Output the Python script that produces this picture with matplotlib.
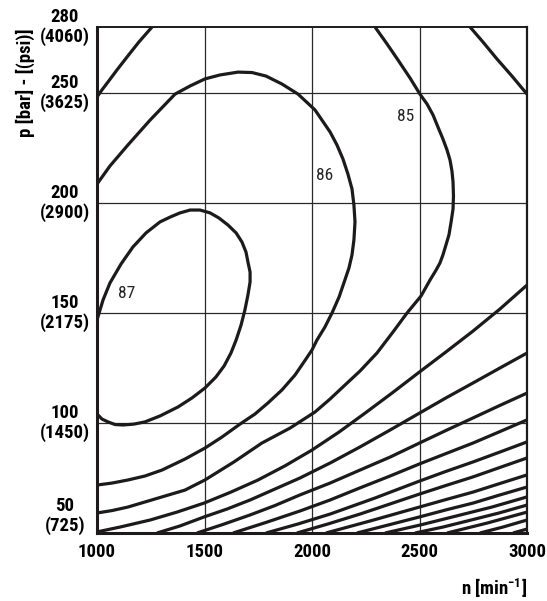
import matplotlib
matplotlib.use('Agg')
import matplotlib.pyplot as plt
import matplotlib.transforms as mtransforms
from matplotlib import font_manager

# axis ticks / labels
n_ticks = [1000, 1500, 2000, 2500, 3000]
p_ticks = [50, 100, 150, 200, 250, 280]
psi_ticks = [725, 1450, 2175, 2900, 3625, 4060]
grid_n = [1500, 2000, 2500]
grid_p = [100, 150, 200, 250]

# efficiency contour lines, digitized (n [min-1], p [bar])
c87_n = [1000, 1023, 1051, 1084, 1121, 1172, 1223, 1293, 1377, 1442, 1502, 1553, 1591, 1623, 1647, 1670, 1688, 1702, 1712,
         1712, 1702, 1693, 1674, 1647, 1609, 1567, 1526, 1479, 1433, 1386, 1340, 1293, 1228, 1167, 1112, 1060, 1028, 1000]
c87_p = [104.1, 101.8, 100.5, 99.3, 99.1, 99.5, 100.5, 103.2, 107.3, 111.4, 115.9, 120.9, 125.9, 131.8, 137.7, 144.5, 151.4, 158.2, 164.1,
         168.6, 173.2, 177.7, 182.3, 186.4, 190, 193.2, 195.5, 196.8, 196.8, 195.5, 193.6, 191.4, 186.4, 180, 172.3, 163.6, 155.9, 146.8]

c86_n = [1000, 1060, 1144, 1247, 1363, 1433, 1502, 1572, 1656, 1721, 1786, 1860, 1935, 2014, 2084, 2116, 2144, 2167, 2186, 2195, 2200,
         2195, 2186, 2172, 2153, 2126, 2093, 2060, 2023, 2000, 1972, 1921, 1860, 1795, 1735, 1665, 1581, 1502, 1409, 1302, 1223, 1144, 1070, 1000]
c86_p = [208.6, 216.8, 226.4, 237.7, 249.5, 253.2, 256.4, 258.2, 259.5, 259.3, 257.7, 254.1, 249.5, 242.3, 232.3, 226.4, 220, 213.2, 206.4, 199.1, 191.4,
         183.2, 176.4, 170.5, 165, 157.3, 150, 143.6, 137.7, 133.2, 129.1, 121.8, 115, 109.1, 104.1, 99.5, 93.6, 88.6, 83.6, 78.6, 75.9, 74.1, 72.7, 71.8]

c85_n = [2293, 2349, 2400, 2456, 2502, 2535, 2563, 2586, 2609, 2628, 2642, 2651, 2656, 2658, 2656, 2647, 2637, 2623, 2609, 2595, 2577, 2549,
         2507, 2442, 2377, 2302, 2223, 2144, 2084, 2014, 1898, 1767, 1637, 1502, 1409, 1302, 1223, 1144, 1070, 1000]
c85_p = [280, 272.3, 265, 256.8, 249.5, 245, 240, 234.5, 229.1, 224.1, 219.5, 214.5, 209.5, 203.2, 197.3, 191.4, 185.5, 180.9, 176.4, 172.7, 169.5, 165,
         157.7, 150, 141.4, 131.8, 123.6, 116.4, 110.9, 105, 97.7, 90.9, 82.3, 74.1, 69.5, 66.4, 64.1, 61.8, 60.2, 59.1]
c85b_n = [1256, 1195, 1140, 1093, 1051, 1023, 1000]
c85b_p = [280, 273.2, 266.4, 260.5, 255, 251.4, 248.2]

c84_n = [2735, 2795, 2860, 2930, 3000]
c84_p = [280, 273.2, 265.5, 257.7, 249.5]
c84b_n = [1000, 1107, 1247, 1372, 1498, 1623, 1749, 1874, 2000, 2126, 2247, 2372, 2500, 2623, 2749, 2874, 3000]
c84b_p = [50.5, 52.7, 55.9, 59.5, 63.6, 68.6, 74.1, 80.5, 87.7, 95.9, 104.5, 113.6, 123.2, 132.3, 141.8, 151.8, 162.7]

# lower fan of contours (83 ... 72)
fan_n = [
    [1279, 1386, 1498, 1605, 1712, 1828, 1944, 2084, 2223, 2363, 2500, 2623, 2749, 2874, 3000],
    [1465, 1586, 1712, 1828, 1944, 2084, 2223, 2363, 2500, 2623, 2749, 2874, 3000],
    [1633, 1786, 1944, 2084, 2223, 2363, 2500, 2623, 2749, 2874, 3000],
    [1786, 1935, 2084, 2293, 2500, 2623, 2749, 2874, 3000],
    [1930, 2074, 2223, 2363, 2500, 2623, 2749, 2874, 3000],
    [2065, 2279, 2500, 2623, 2749, 2874, 3000],
    [2209, 2353, 2500, 2623, 2749, 2874, 3000],
    [2340, 2502, 2670, 2837, 3000],
    [2479, 2609, 2740, 2870, 3000],
    [2628, 2814, 3000],
    [2781, 2888, 3000],
    [2935, 3000],
]
fan_p = [
    [50, 53.2, 57.3, 60.9, 65, 70, 75, 81.8, 89.1, 96.8, 104.5, 111.4, 118.2, 125, 131.8],
    [50, 53.9, 58.2, 62.5, 67.3, 72.7, 78.6, 84.5, 90.9, 96.6, 102.3, 108, 113.6],
    [50, 54.8, 60, 65, 70.5, 75.9, 81.4, 86.1, 90.9, 96.1, 101.4],
    [50, 54.1, 58.6, 65.9, 73.6, 78, 82.3, 86.8, 91.4],
    [50, 54.1, 58.6, 63.2, 67.7, 71.6, 75.5, 79.8, 84.1],
    [50, 55.7, 61.8, 65.2, 68.6, 72.5, 76.4],
    [50, 53.6, 57.3, 60.5, 63.6, 67.3, 70.9],
    [50, 53.6, 57.7, 61.8, 66.4],
    [50, 52.7, 55.9, 59.1, 62.7],
    [50, 54.5, 59.5],
    [50, 52.7, 55.9],
    [50, 51.8],
]

labels = ['87', '86', '85']
label_n = [1140, 2060, 2437]
label_p = [159, 212.7, 239.5]

# pick a condensed face if there is one
have = set(f.name for f in font_manager.fontManager.ttflist)
narrow = 'DejaVu Sans'
for name in ['Roboto Condensed', 'Archivo Narrow', 'Barlow Semi Condensed', 'Asap Condensed']:
    if name in have:
        narrow = name
        break
plt.rcParams['font.family'] = [narrow, 'DejaVu Sans']
plt.rcParams['mathtext.fontset'] = 'custom'
plt.rcParams['mathtext.rm'] = narrow + ':bold'
plt.rcParams['mathtext.bf'] = narrow + ':bold'

fig = plt.figure(figsize=(5.47, 6.01), dpi=100)
ax = fig.add_axes([97 / 547, 1 - 533 / 601, 430 / 547, 506 / 601])
ax.set_xlim(1000, 3000)
ax.set_ylim(50, 280)

for x in grid_n:
    ax.axvline(x, color='#2a2a2a', lw=0.9, zorder=1)
for y in grid_p:
    ax.axhline(y, color='#2a2a2a', lw=0.9, zorder=1)

line_kw = dict(color='#1c1a1a', lw=2.3, solid_capstyle='butt', solid_joinstyle='round', zorder=3)
for n, p in [(c87_n, c87_p), (c86_n, c86_p), (c85_n, c85_p), (c85b_n, c85b_p),
             (c84_n, c84_p), (c84b_n, c84b_p)]:
    ax.plot(n, p, **line_kw)
for n, p in zip(fan_n, fan_p):
    ax.plot(n, p, **line_kw)

for t, x, y in zip(labels, label_n, label_p):
    ax.text(x, y, t, fontsize=12.5, ha='center', va='center', color='#222222')

for side, w in [('left', 2.2), ('bottom', 2.2), ('top', 1.4), ('right', 1.6)]:
    ax.spines[side].set_linewidth(w)
    ax.spines[side].set_color('#1c1a1a')
    ax.spines[side].set_zorder(4)

ax.set_xticks(n_ticks)
ax.set_xticklabels([str(v) for v in n_ticks], fontsize=13.5, fontweight='bold')
ax.tick_params(axis='x', length=0, pad=7)
ax.set_yticks([])

trans = mtransforms.blended_transform_factory(ax.transAxes, ax.transData)
for p, psi in zip(p_ticks, psi_ticks):
    tr = trans
    if p == p_ticks[0]:
        tr = mtransforms.offset_copy(trans, fig=fig, x=0, y=17, units='dots')
    ax.text(-0.0744, p, '%d\n(%d)' % (p, psi), transform=tr, fontsize=13.5,
            fontweight='bold', ha='center', va='center', multialignment='center',
            linespacing=1.1)

ax.text(1.0, -0.108, r'n [min$^{\mathbf{-1}}$]', transform=ax.transAxes, ha='right',
        va='center', fontsize=13.5, fontweight='bold')
fig.text(25 / 547, 1 - 83 / 601, 'p [bar] - [(psi)]', rotation=90, ha='center',
         va='center', fontsize=13.5, fontweight='bold')

fig.savefig('out.png', dpi=100)
